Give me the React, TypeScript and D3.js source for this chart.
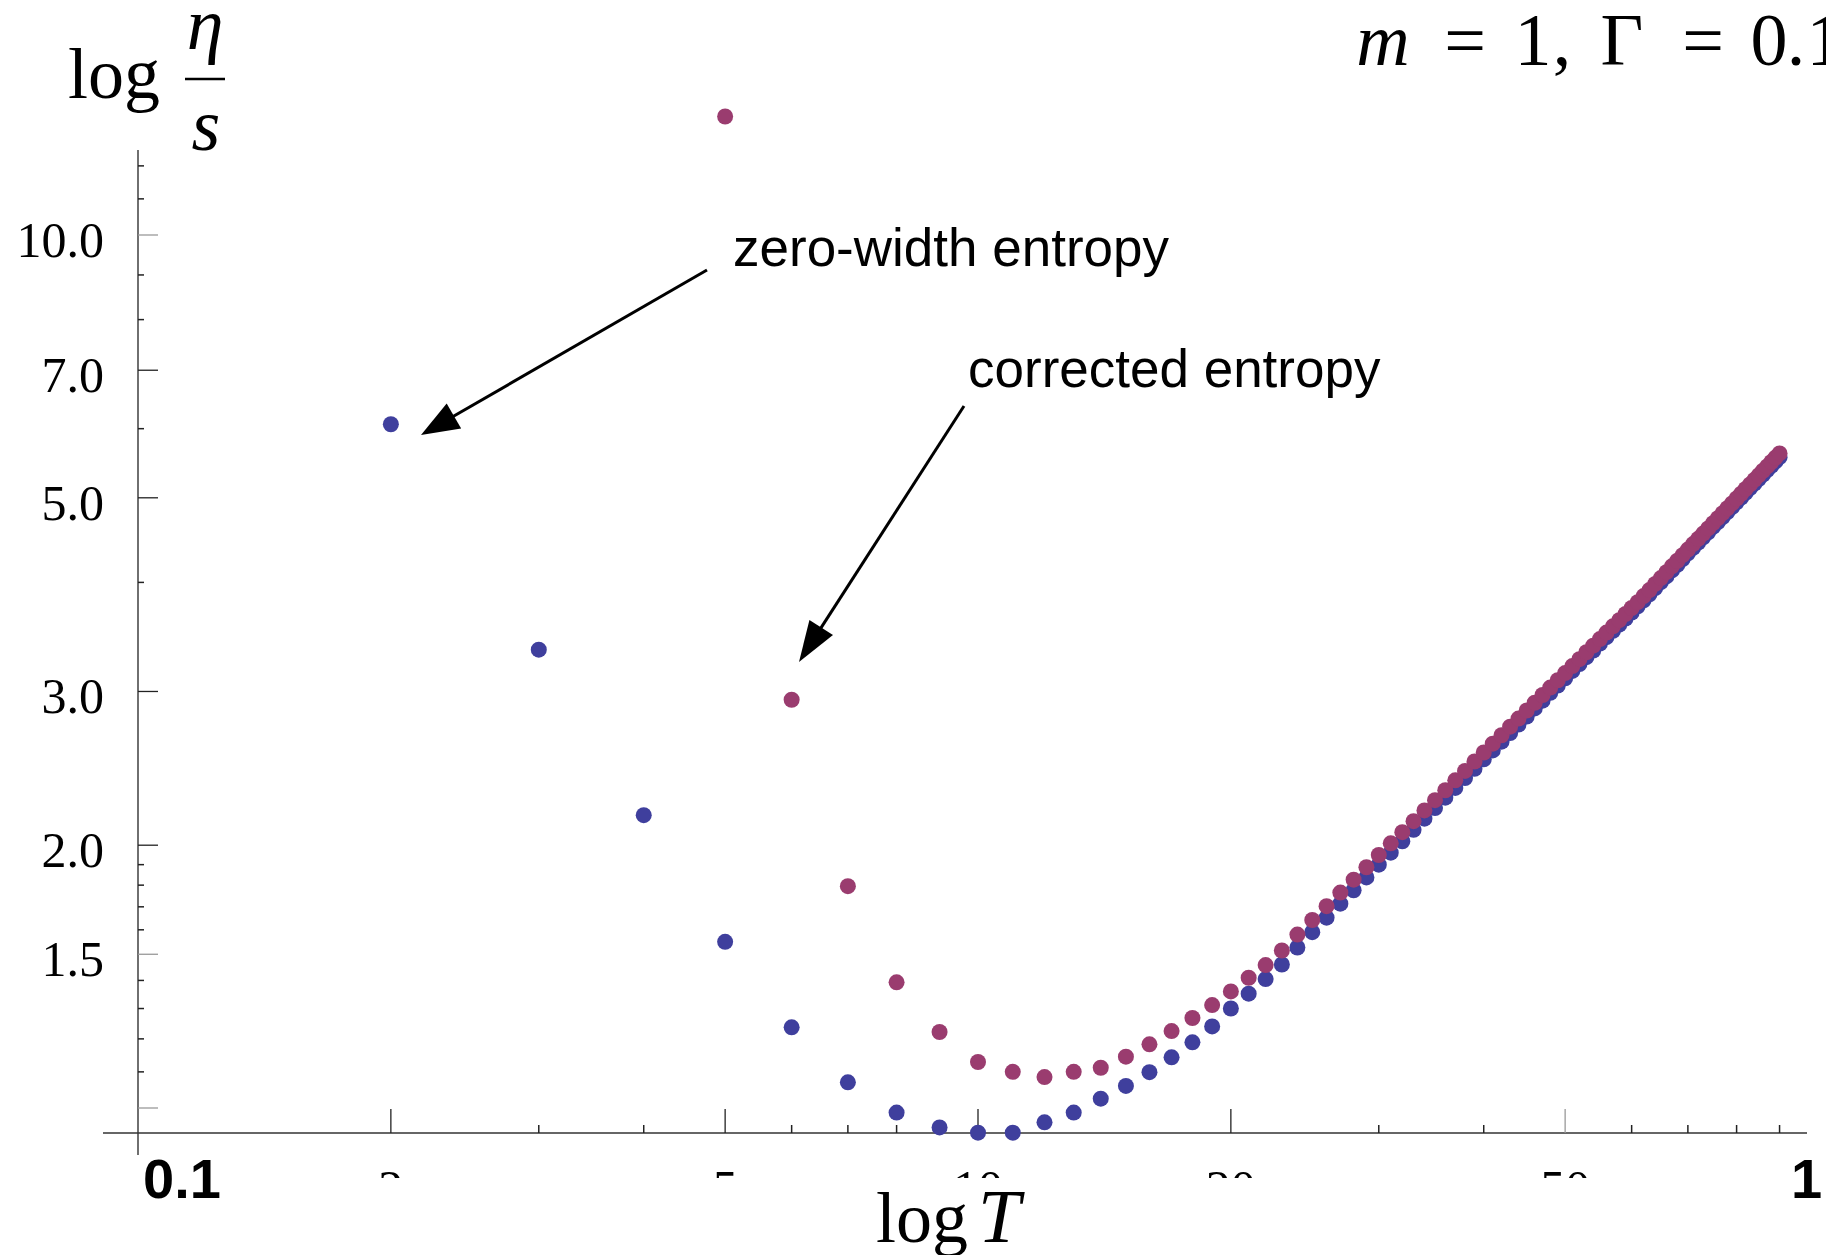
import React, { useEffect, useRef } from "react";
import * as d3 from "d3";

// temperatures of the sampled points
const temps = [
  2, 3, 4, 5, 6, 7, 8, 9, 10, 11, 12, 13, 14, 15, 16, 17, 18, 19, 20, 21, 22, 23, 24, 25, 26, 27, 28, 29, 30,
  31, 32, 33, 34, 35, 36, 37, 38, 39, 40, 41, 42, 43, 44, 45, 46, 47, 48, 49, 50, 51, 52, 53, 54, 55, 56, 57,
  58, 59, 60, 61, 62, 63, 64, 65, 66, 67, 68, 69, 70, 71, 72, 73, 74, 75, 76, 77, 78, 79, 80, 81, 82, 83, 84,
  85, 86, 87, 88, 89, 90,
];

// eta/s with the zero-width entropy (blue dots)
const zeroWidth = [
  6.07, 3.35, 2.165, 1.55, 1.237, 1.07, 0.988, 0.95, 0.937, 0.937, 0.963, 0.988, 1.025, 1.06, 1.099, 1.143,
  1.189, 1.24, 1.3, 1.352, 1.405, 1.46, 1.527, 1.59, 1.652, 1.714, 1.776, 1.837, 1.9, 1.961, 2.021, 2.083,
  2.145, 2.206, 2.267, 2.326, 2.388, 2.447, 2.509, 2.568, 2.628, 2.688, 2.749, 2.808, 2.869, 2.928, 2.989,
  3.047, 3.106, 3.167, 3.225, 3.284, 3.342, 3.404, 3.462, 3.52, 3.578, 3.636, 3.695, 3.756, 3.816, 3.877,
  3.941, 4.002, 4.064, 4.128, 4.189, 4.255, 4.319, 4.381, 4.443, 4.505, 4.566, 4.63, 4.691, 4.753, 4.816,
  4.878, 4.942, 5.004, 5.066, 5.129, 5.191, 5.252, 5.317, 5.378, 5.441, 5.504, 5.565,
];

// eta/s with the corrected entropy (magenta dots), off the chart below T=5
const corrected = [
  null, null, null, 13.67, 2.935, 1.795, 1.393, 1.222, 1.129, 1.1, 1.085, 1.1, 1.112, 1.145, 1.183, 1.225,
  1.268, 1.312, 1.36, 1.41, 1.458, 1.515, 1.58, 1.642, 1.703, 1.765, 1.826, 1.887, 1.949, 2.01, 2.07, 2.131,
  2.192, 2.252, 2.312, 2.373, 2.433, 2.494, 2.554, 2.614, 2.673, 2.734, 2.793, 2.853, 2.912, 2.972, 3.031,
  3.09, 3.149, 3.208, 3.267, 3.327, 3.385, 3.445, 3.504, 3.562, 3.621, 3.68, 3.739, 3.797, 3.858, 3.92,
  3.984, 4.046, 4.109, 4.173, 4.235, 4.298, 4.362, 4.425, 4.487, 4.55, 4.612, 4.676, 4.738, 4.801, 4.864,
  4.927, 4.991, 5.054, 5.117, 5.18, 5.243, 5.305, 5.37, 5.432, 5.495, 5.559, 5.621,
];

// ticks
const xMajor = [2, 5, 10, 20, 50];
const xMinor = [3, 4, 6, 7, 8, 9, 30, 40, 60, 70, 80, 90];
const yMajor = [1, 1.5, 2, 3, 5, 7, 10];
const yMinor = [1.1, 1.2, 1.3, 1.4, 1.6, 1.7, 1.8, 1.9, 4, 6, 8, 9, 11, 12];
const yLabelValues = [1.5, 2, 3, 5, 7, 10];
const grayTicks = [1, 1.5, 10];

const W = 1826;
const H = 1255;
const blueCol = "#3f3f9d";
const magentaCol = "#9a3c6f";
const serif = "'Liberation Serif', 'Times New Roman', serif";
const sans = "'Liberation Sans', Arial, Helvetica, sans-serif";

export default function App() {
  const svgRef = useRef<SVGSVGElement>(null);

  useEffect(() => {
    const svg = d3.select(svgRef.current);
    svg.selectAll("*").remove();

    const x = d3.scaleLog().domain([1, 100]).range([138, 1818]);
    const y = d3.scaleLog().domain([1, 10]).range([1108, 235]);
    const axisY = 1133;
    const axisX = x(1);

    svg.append("rect").attr("width", W).attr("height", H).attr("fill", "#fff");

    // clip for the x tick labels, only their tops show in the original
    svg.append("defs").append("clipPath").attr("id", "xlabClip")
      .append("rect").attr("x", 0).attr("y", 1140).attr("width", W).attr("height", 38);

    // axes
    svg.append("line").attr("x1", 103).attr("x2", 1807).attr("y1", axisY).attr("y2", axisY)
      .attr("stroke", "#333").attr("stroke-width", 1.6);
    svg.append("line").attr("x1", axisX).attr("x2", axisX).attr("y1", 150).attr("y2", 1155)
      .attr("stroke", "#333").attr("stroke-width", 1.4);

    // x ticks
    svg.selectAll(".xmaj").data(xMajor).enter().append("line")
      .attr("x1", (d) => x(d)).attr("x2", (d) => x(d))
      .attr("y1", axisY).attr("y2", axisY - 24)
      .attr("stroke", (d) => (d === 50 ? "#999" : "#222")).attr("stroke-width", 1.3);
    svg.selectAll(".xmin").data(xMinor).enter().append("line")
      .attr("x1", (d) => x(d)).attr("x2", (d) => x(d))
      .attr("y1", axisY).attr("y2", axisY - 8)
      .attr("stroke", "#222").attr("stroke-width", 1.5);

    svg.append("g").attr("clip-path", "url(#xlabClip)")
      .selectAll("text").data(xMajor).enter().append("text")
      .attr("x", (d) => x(d)).attr("y", 1205)
      .attr("text-anchor", "middle")
      .style("font-family", serif).style("font-size", "50px")
      .text((d) => d);

    // y ticks
    svg.selectAll(".ymaj").data(yMajor).enter().append("line")
      .attr("x1", axisX).attr("x2", axisX + 20)
      .attr("y1", (d) => y(d)).attr("y2", (d) => y(d))
      .attr("stroke", (d) => (grayTicks.includes(d) ? "#999" : "#222")).attr("stroke-width", 1.3);
    svg.selectAll(".ymin").data(yMinor).enter().append("line")
      .attr("x1", axisX).attr("x2", axisX + 6)
      .attr("y1", (d) => y(d)).attr("y2", (d) => y(d))
      .attr("stroke", "#222").attr("stroke-width", 1.5);

    svg.selectAll(".ylab").data(yLabelValues).enter().append("text")
      .attr("x", 104).attr("y", (d) => y(d) + 22)
      .attr("text-anchor", "end")
      .style("font-family", serif).style("font-size", "50px")
      .text((d) => d3.format(".1f")(d));

    // bold corner labels
    svg.append("text").attr("x", 143).attr("y", 1198)
      .style("font-family", sans).style("font-weight", "bold").style("font-size", "56px")
      .text("0.1");
    svg.append("text").attr("x", 1791).attr("y", 1198)
      .style("font-family", sans).style("font-weight", "bold").style("font-size", "56px")
      .text("1");

    // points: blue first, magenta on top
    const blue = temps.map((t, i) => ({ t, v: zeroWidth[i] }));
    const mag = temps.map((t, i) => ({ t, v: corrected[i] })).filter((d) => d.v !== null);

    svg.append("g").selectAll("circle").data(blue).enter().append("circle")
      .attr("cx", (d) => x(d.t)).attr("cy", (d) => y(d.v))
      .attr("r", 8).attr("fill", blueCol);
    svg.append("g").selectAll("circle").data(mag).enter().append("circle")
      .attr("cx", (d) => x(d.t)).attr("cy", (d) => y(d.v as number))
      .attr("r", 8).attr("fill", magentaCol);

    // annotations with arrows
    const arrow = (x1: number, y1: number, x2: number, y2: number, len: number, half: number) => {
      const dx = x2 - x1;
      const dy = y2 - y1;
      const L = Math.sqrt(dx * dx + dy * dy);
      const ux = dx / L;
      const uy = dy / L;
      const bx = x2 - ux * len;
      const by = y2 - uy * len;
      svg.append("line").attr("x1", x1).attr("y1", y1).attr("x2", bx + ux * 4).attr("y2", by + uy * 4)
        .attr("stroke", "#000").attr("stroke-width", 3);
      svg.append("polygon")
        .attr("points", `${x2},${y2} ${bx - uy * half},${by + ux * half} ${bx + uy * half},${by - ux * half}`)
        .attr("fill", "#000");
    };
    arrow(707, 270, 421, 435, 38, 14.5);
    arrow(964, 406, 799, 662, 41, 14);

    svg.append("text").attr("x", 733).attr("y", 266)
      .style("font-family", sans).style("font-size", "53px")
      .text("zero-width entropy");
    svg.append("text").attr("x", 968).attr("y", 387)
      .style("font-family", sans).style("font-size", "53px")
      .text("corrected entropy");

    // y axis label: log eta / s
    svg.append("text").attr("x", 68).attr("y", 98)
      .style("font-family", serif).style("font-size", "72px").text("log");
    svg.append("text").attr("x", 205).attr("y", 49).attr("text-anchor", "middle")
      .style("font-family", serif).style("font-style", "italic").style("font-size", "74px").text("η");
    svg.append("line").attr("x1", 185).attr("x2", 225).attr("y1", 79).attr("y2", 79)
      .attr("stroke", "#000").attr("stroke-width", 2.5);
    svg.append("text").attr("x", 206).attr("y", 150).attr("text-anchor", "middle")
      .style("font-family", serif).style("font-style", "italic").style("font-size", "74px").text("s");

    // x axis label: log T
    svg.append("text").attr("x", 876).attr("y", 1242)
      .style("font-family", serif).style("font-size", "72px").text("log");
    svg.append("text").attr("x", 978).attr("y", 1242)
      .style("font-family", serif).style("font-style", "italic").style("font-size", "76px").text("T");

    // title, clipped at the right edge
    const title = svg.append("text").attr("y", 65)
      .style("font-family", serif).style("font-size", "74px").attr("text-anchor", "middle");
    const glyphs: [string, number, boolean][] = [
      ["m", 1383, true], ["=", 1465, false], ["1", 1533, false], [",", 1562, false],
      ["Γ", 1622, false], ["=", 1703, false], ["0", 1769, false], [".", 1796, false], ["1", 1825, false],
    ];
    glyphs.forEach(([g, gx, it]) => {
      title.append("tspan").attr("x", gx).style("font-style", it ? "italic" : "normal").text(g);
    });
  }, []);

  return (
    <svg
      ref={svgRef}
      width={W}
      height={H}
      style={{ position: "absolute", left: 0, top: 0, display: "block" }}
    />
  );
}
